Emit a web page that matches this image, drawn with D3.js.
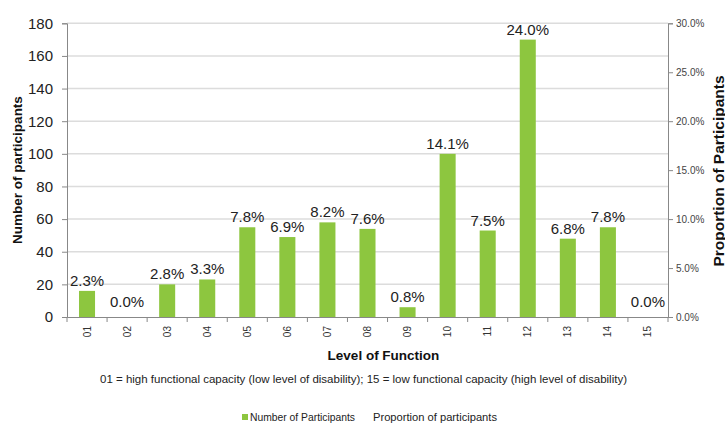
<!DOCTYPE html>
<html><head><meta charset="utf-8">
<script src="https://cdn.jsdelivr.net/npm/d3@7"></script>
<style>body{margin:0;background:#fff}svg{display:block;font-family:"Liberation Sans",Arial,sans-serif}</style>
</head><body>
<svg id="chart" width="725" height="430"></svg>
<script>
const categories = ["01","02","03","04","05","06","07","08","09","10","11","12","13","14","15"];
const participants = [16,0,20,23,55,49,58,54,6,100,53,170,48,55,0];
const proportions = [2.3,0.0,2.8,3.3,7.8,6.9,8.2,7.6,0.8,14.1,7.5,24.0,6.8,7.8,0.0];
const leftTicks = [0,20,40,60,80,100,120,140,160,180];
const rightTicks = [0,0.05,0.10,0.15,0.20,0.25,0.30];

const svg = d3.select("#chart");
const L = 67, R = 668, T = 23.3, B = 317;
const x = d3.scaleBand().domain(categories).range([L,R]).paddingInner(0.6).paddingOuter(0.3);
const y = d3.scaleLinear().domain([0,180]).range([B,T]);
const y2 = d3.scaleLinear().domain([0,0.30]).range([B,T]);

// gridlines
svg.append("g").selectAll("line").data(leftTicks.filter(d=>d>0)).join("line")
  .attr("x1",L).attr("x2",R).attr("y1",d=>y(d)).attr("y2",d=>y(d))
  .attr("stroke","#dcdcdc").attr("stroke-width",1.5);

// bars
svg.append("g").selectAll("rect").data(participants).join("rect")
  .attr("x",(d,i)=>x(categories[i])).attr("width",x.bandwidth())
  .attr("y",d=>y(d)).attr("height",d=>B-y(d)).attr("fill","#8dc63f");

// left axis
const gl = svg.append("g").attr("transform",`translate(${L},0)`)
  .call(d3.axisLeft(y).tickValues(leftTicks).tickSize(5).tickPadding(9));
gl.selectAll("path,line").attr("stroke","#888");
gl.selectAll("text").attr("font-size",15).attr("fill","#222").attr("font-family","Liberation Sans, Arial, sans-serif");

// right axis
const gr = svg.append("g").attr("transform",`translate(${R},0)`)
  .call(d3.axisRight(y2).tickValues(rightTicks).tickFormat(d3.format(".1%")).tickSize(5).tickPadding(3));
gr.selectAll("path,line").attr("stroke","#888");
gr.selectAll("text").attr("font-size",10).attr("fill","#444").attr("font-family","Liberation Sans, Arial, sans-serif");

// bottom axis
const gb = svg.append("g").attr("transform",`translate(0,${B})`)
  .call(d3.axisBottom(x).tickSize(0).tickPadding(0));
gb.select("path").attr("stroke","#888");
gb.selectAll("text").attr("font-size",10).attr("fill","#333")
  .attr("font-family","Liberation Sans, Arial, sans-serif")
  .attr("transform","rotate(-90)").attr("text-anchor","end")
  .attr("x",-9).attr("y",0).attr("dy","0.35em");
const bounds = d3.range(categories.length+1).map(i=>L+i*x.step());
gb.selectAll("line.bnd").data(bounds).join("line").attr("class","bnd")
  .attr("x1",d=>d).attr("x2",d=>d).attr("y1",0).attr("y2",5).attr("stroke","#888");

// value labels
svg.append("g").selectAll("text").data(proportions).join("text")
  .attr("x",(d,i)=>x(categories[i])+x.bandwidth()/2)
  .attr("y",(d,i)=>Math.min(y(participants[i])-5, B-10))
  .attr("text-anchor","middle").attr("font-size",15).attr("fill","#222")
  .text(d=>d.toFixed(1)+"%");

// axis titles
svg.append("text").attr("transform",`translate(22,170) rotate(-90)`).attr("text-anchor","middle")
  .attr("font-size",13.5).attr("font-weight","bold").attr("fill","#111").text("Number of participants");
svg.append("text").attr("transform",`translate(723.5,171) rotate(-90)`).attr("text-anchor","middle")
  .attr("font-size",15.5).attr("font-weight","bold").attr("fill","#111").text("Proportion of Participants");
svg.append("text").attr("x",383.5).attr("y",360).attr("text-anchor","middle")
  .attr("font-size",13.5).attr("font-weight","bold").attr("fill","#111").text("Level of Function");
svg.append("text").attr("x",100).attr("y",383).attr("font-size",11).attr("fill","#222")
  .attr("textLength",527).attr("lengthAdjust","spacingAndGlyphs")
  .text("01 = high functional capacity (low level of disability); 15 = low functional capacity (high level of disability)");

// legend
svg.append("rect").attr("x",242).attr("y",414).attr("width",6).attr("height",6).attr("fill","#8dc63f");
svg.append("text").attr("x",250).attr("y",420.5).attr("font-size",10.5).attr("fill","#222")
  .attr("textLength",105).attr("lengthAdjust","spacingAndGlyphs").text("Number of Participants");
svg.append("text").attr("x",373).attr("y",420.5).attr("font-size",10.5).attr("fill","#222")
  .attr("textLength",124).attr("lengthAdjust","spacingAndGlyphs").text("Proportion of participants");
</script>
</body></html>
